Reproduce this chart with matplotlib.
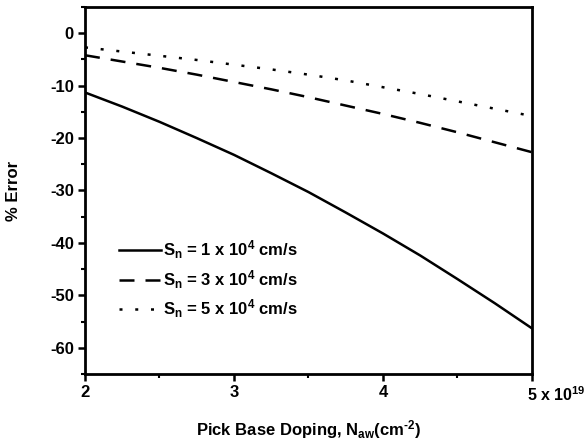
import matplotlib
matplotlib.use("Agg")
import matplotlib.pyplot as plt
from matplotlib.ticker import MultipleLocator
from matplotlib import transforms

plt.rcParams['font.family'] = ['Liberation Sans', 'DejaVu Sans']
plt.rcParams['font.weight'] = 'bold'
plt.rcParams['mathtext.fontset'] = 'custom'
plt.rcParams['mathtext.rm'] = 'Liberation Sans:bold'
plt.rcParams['mathtext.bf'] = 'Liberation Sans:bold'
plt.rcParams['mathtext.it'] = 'Liberation Sans:bold'
plt.rcParams['mathtext.default'] = 'rm'
plt.rcParams['axes.unicode_minus'] = False

# Data (x in units of 1e19 cm^-3)
doping = [2.0, 2.25, 2.5, 2.75, 3.0, 3.25, 3.5, 3.75, 4.0, 4.25, 4.5, 4.75, 5.0]
err_sn1 = [-11.3, -14.0, -16.9, -20.0, -23.2, -26.7, -30.3, -34.2, -38.2, -42.4, -46.9, -51.5, -56.3]
err_sn3 = [-4.2, -5.4, -6.6, -7.9, -9.3, -10.7, -12.2, -13.8, -15.4, -17.1, -18.9, -20.8, -22.7]
err_sn5 = [-2.7, -3.5, -4.3, -5.1, -6.0, -6.9, -7.9, -9.0, -10.3, -11.6, -13.0, -14.4, -15.8]
labels = [r'S$_{\rm n}$ = 1 x 10$^{4}$ cm/s',
          r'S$_{\rm n}$ = 3 x 10$^{4}$ cm/s',
          r'S$_{\rm n}$ = 5 x 10$^{4}$ cm/s']
xticks = [2, 3, 4, 5]
xticklabels = ['2', '3', '4', '']
last_xlabel = r'5 x 10$^{\mathregular{19}}$'
yticks = [0, -10, -20, -30, -40, -50, -60]

fig = plt.figure(figsize=(5.87, 4.44), dpi=100)
ax = fig.add_axes([0.1448, 0.1577, 0.7615, 0.8265])

lw = 1.8
ax.plot(doping, err_sn1, color='black', lw=lw, linestyle='-', label=labels[0])
ax.plot(doping, err_sn3, color='black', lw=lw, linestyle=(0, (6, 4.4)), label=labels[1])
ax.plot(doping, err_sn5, color='black', lw=lw, linestyle=(0, (1.2, 5.1)), label=labels[2])

ax.set_xlim(2, 5)
ax.set_ylim(-65, 5)
ax.set_xticks(xticks)
ax.set_xticklabels(xticklabels)
ax.set_yticks(yticks)
ax.xaxis.set_minor_locator(MultipleLocator(0.5))
ax.yaxis.set_minor_locator(MultipleLocator(5))
ax.tick_params(which='major', direction='out', length=5, width=1.8, labelsize=12, pad=3)
ax.tick_params(which='minor', direction='out', length=3, width=1.5)
for s in ax.spines.values():
    s.set_linewidth(2.0)

trans = transforms.blended_transform_factory(ax.transData, ax.transAxes)
offset = transforms.ScaledTranslation(-5 / 100, 0, fig.dpi_scale_trans)
ax.text(5, -0.057, last_xlabel, transform=trans + offset, ha='left', va='center',
        fontsize=11.5, fontweight='bold')

ax.set_xlabel(r'Pick Base Doping, N$_{\rm aw}$(cm$^{\text{-2}}$)', fontsize=12, fontweight='bold', labelpad=13)
ax.set_ylabel('% Error', fontsize=12, fontweight='bold', labelpad=21)

leg = ax.legend(loc='upper left', bbox_to_anchor=(0.062, 0.387), frameon=False, fontsize=12,
                handlelength=2.5, handletextpad=0.1, labelspacing=0.42, borderaxespad=0)

fig.savefig('out.png', dpi=100)
